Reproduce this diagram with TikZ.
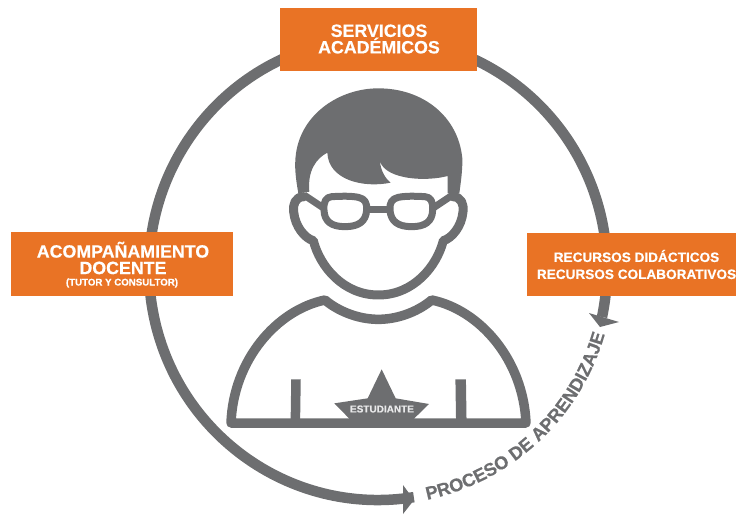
\documentclass[tikz,border=0pt]{standalone}
\usepackage{fontspec}
\setmainfont{Liberation Sans}[BoldFeatures={FakeBold=0.5}]
\usetikzlibrary{decorations.text}
\definecolor{ink}{HTML}{6D6E70}
\definecolor{tang}{HTML}{E97325}
\newcommand{\procfont}{\fontsize{18.2}{18.2}\selectfont\bfseries}
\tikzset{
  ring/.style={draw=ink,line width=10.5pt},
  outline/.style={draw=ink,line width=9pt,line join=round,line cap=round},
  specs/.style={draw=ink,line width=7pt,line join=round},
  tagbox/.style={fill=tang,draw=none,inner sep=0pt,anchor=north west},
  tagtext/.style={text=white,align=center,inner sep=0pt}
}
\begin{document}
\begin{tikzpicture}[x=1pt,y=-1pt]
\useasboundingbox (0,0) rectangle (736,514);
\coordinate (ringcentre) at (378,269);
% ring
\draw[ring] (ringcentre) ++(81:229 and 231) coordinate (ringend) arc[start angle=81,delta angle=291,x radius=229,y radius=231] coordinate (ringstart);
% arrowheads
\fill[ink] (403,485) coordinate (b1) -- (414,500) coordinate (t1) -- (403,514) coordinate (b2) -- cycle;
\fill[ink] (589,313) coordinate (b3) -- (600,327) coordinate (t2) -- (619,322) coordinate (b4) -- cycle;
% head
\begin{scope}[shift={(220,80)},scale=1/3]
\fill[ink] (235,340) .. controls (228,300) and (222,260) .. (228,220)
  .. controls (245,100) and (360,25) .. (475,25)
  .. controls (610,25) and (715,110) .. (727,235)
  .. controls (728,270) and (722,310) .. (718,340) -- (683,340) -- (683,288)
  .. controls (620,305) and (500,300) .. (480,245)
  .. controls (482,270) and (495,295) .. (512,308)
  .. controls (430,325) and (325,300) .. (322,218)
  .. controls (290,235) and (262,270) .. (268,335) -- cycle;
\draw[outline] (252,350) .. controls (225,350) and (218,375) .. (221,395)
  .. controls (225,440) and (255,475) .. (280,482)
  .. controls (300,560) and (370,645) .. (475,645)
  .. controls (580,645) and (650,560) .. (670,482)
  .. controls (695,475) and (725,440) .. (729,395)
  .. controls (732,375) and (725,350) .. (698,350);
\draw[specs] (335,350) .. controls (370,348) and (395,348) .. (415,352)
  .. controls (435,356) and (442,370) .. (440,390)
  .. controls (438,425) and (415,440) .. (375,440)
  .. controls (335,440) and (313,425) .. (312,390)
  .. controls (310,365) and (318,351) .. (335,350) -- cycle;
\draw[specs] (615,350) .. controls (580,348) and (555,348) .. (535,352)
  .. controls (515,356) and (508,370) .. (510,390)
  .. controls (512,425) and (535,440) .. (575,440)
  .. controls (615,440) and (637,425) .. (638,390)
  .. controls (640,365) and (632,351) .. (615,350) -- cycle;
\draw[specs] (440,388) -- (510,388);
\draw[specs] (312,385) -- (252,345);
\draw[specs] (638,385) -- (698,345);
\end{scope}
% body
\begin{scope}[shift={(220,290)},scale=1/3]
\draw[ink,line width=9.5pt,line join=round] (33,399) .. controls (40,210) and (170,60) .. (315,30)
  .. controls (350,60) and (410,88) .. (475,88)
  .. controls (540,88) and (600,60) .. (635,30)
  .. controls (780,60) and (910,210) .. (918,399) -- cycle;
\draw[ink,line width=9.5pt] (228,268) -- (226,399);
\draw[ink,line width=10.5pt] (722,268) -- (724,399);
\fill[ink] (485,238) -- (527,325) -- (627,342) -- (583,385) -- (583,399) -- (387,399) -- (387,385) -- (343,340) -- (443,325) -- cycle;
\end{scope}
\node[text=white!85!ink,font=\fontsize{10}{10}\selectfont\bfseries,inner sep=0pt] (estudiante) at (382,409) {ESTUDIANTE};
% boxes
\node[tagbox,minimum width=197pt,minimum height=63pt] (top) at (280,8) {};
\node[tagbox,minimum width=222pt,minimum height=64pt] (left) at (11,232) {};
\node[tagbox,minimum width=209pt,minimum height=63pt] (right) at (527,233) {};
\node[tagtext,font=\fontsize{17.8}{16.5}\selectfont\bfseries] (toplabel) at (379,39) {SERVICIOS\\ACADÉMICOS};
\node[tagtext,font=\fontsize{17.8}{16.5}\selectfont\bfseries] (leftlabel) at (123,258) {ACOMPAÑAMIENTO\\DOCENTE};
\node[tagtext,font=\fontsize{9.7}{10}\selectfont\bfseries] (leftsub) at (122,283) {(TUTOR Y CONSULTOR)};
\node[tagtext,font=\fontsize{13.6}{17}\selectfont\bfseries] (rightlabel) at (636.5,264.5) {RECURSOS DIDÁCTICOS\\RECURSOS COLABORATIVOS};
% curved label
\path[decorate,decoration={text along path,text align=center,text color=ink,text={|\procfont|PROCESO DE APRENDIZAJE}}]
  (ringcentre) ++(80:236) arc[start angle=80,delta angle=-66,radius=236];
\end{tikzpicture}
\end{document}
